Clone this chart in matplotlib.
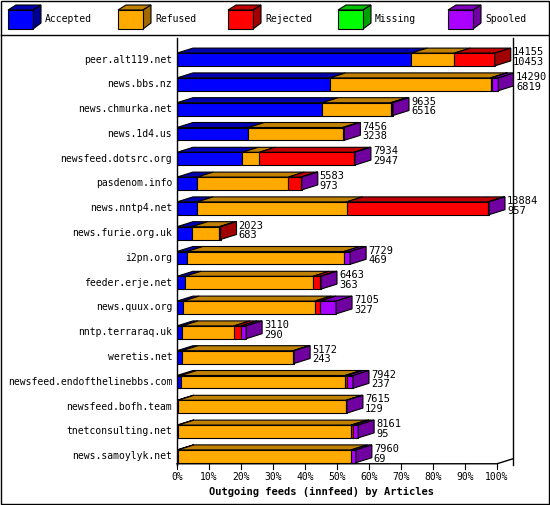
import matplotlib
matplotlib.use("Agg")
import matplotlib.pyplot as plt
from matplotlib.patches import Polygon, Rectangle
import numpy as np

feeds = ["peer.alt119.net", "news.bbs.nz", "news.chmurka.net", "news.1d4.us",
         "newsfeed.dotsrc.org", "pasdenom.info", "news.nntp4.net", "news.furie.org.uk",
         "i2pn.org", "feeder.erje.net", "news.quux.org", "nntp.terraraq.uk",
         "weretis.net", "newsfeed.endofthelinebbs.com", "newsfeed.bofh.team",
         "tnetconsulting.net", "news.samoylyk.net"]
offered = [14155, 14290, 9635, 7456, 7934, 5583, 13884, 2023, 7729, 6463, 7105, 3110,
           5172, 7942, 7615, 8161, 7960]
accepted_n = [10453, 6819, 6516, 3238, 2947, 973, 957, 683, 469, 363, 327, 290,
              243, 237, 129, 95, 69]
# percentages
accepted = [73.2, 47.7, 45.4, 22.3, 20.4, 6.3, 6.3, 4.6, 3.1, 2.5, 1.9, 1.6, 1.6, 1.2, 0.3, 0.3, 0.3]
refused = [13.5, 50.3, 21.4, 29.5, 5.3, 28.5, 46.7, 8.6, 49.1, 40.0, 41.2, 16.2, 34.7, 51.3, 52.5, 54.1, 54.1]
rejected = [12.6, 0.3, 0.4, 0.0, 29.6, 3.9, 44.2, 0.4, 0.0, 2.2, 1.6, 2.2, 0.0, 0.6, 0.0, 0.6, 0.0]
missing = [0.0] * 17
spooled = [0.0, 2.1, 0.3, 0.5, 0.3, 0.3, 0.3, 0.0, 1.9, 0.3, 5.0, 1.6, 0.3, 1.9, 0.3, 1.6, 1.5]
ticks = ["0%", "10%", "20%", "30%", "40%", "50%", "60%", "70%", "80%", "90%", "100%"]

names = ["Accepted", "Refused", "Rejected", "Missing", "Spooled"]
front = ["#0000FF", "#FFAA00", "#FF0000", "#00FF00", "#AA00FF"]
top = ["#0000B0", "#C08000", "#C00000", "#00C000", "#8000C0"]
side = ["#000090", "#A06800", "#A00000", "#00A000", "#7000A0"]
series = [accepted, refused, rejected, missing, spooled]

W, H = 550, 505
fig = plt.figure(figsize=(W / 100, H / 100), dpi=100)
fig.patch.set_facecolor("white")
mono = "DejaVu Sans Mono"

# axes: x 0..105 mapped to px 177..513, y rows
x0, x1 = 177, 513
ytop, ybot = 38, 465
ax = fig.add_axes([x0 / W, 1 - ybot / H, (x1 - x0) / W, (ybot - ytop) / H])
ax.set_xlim(0, 105)
sp = 24.8
ax.set_ylim((ybot - 59.5) / sp, -(59.5 - ytop) / sp)
ax.axis("off")

hh = 6.4 / sp
dx = 5.0
dy = 5.0 / sp

# back wall line
ax.plot([105, 105], ax.get_ylim(), color="black", lw=1, clip_on=False)
ax.plot([0, 0], ax.get_ylim(), color="black", lw=1, clip_on=False)

for i in range(len(feeds)):
    left = 0.0
    last = None
    for k, s in enumerate(series):
        w = s[i]
        if w <= 0:
            continue
        ax.add_patch(Polygon([(left, i - hh), (left + dx, i - hh - dy), (left + w + dx, i - hh - dy),
                              (left + w, i - hh)], closed=True, fc=top[k], ec="black", lw=0.8))
        ax.add_patch(Rectangle((left, i - hh), w, 2 * hh, fc=front[k], ec="black", lw=0.8))
        left += w
        last = k
    ax.add_patch(Polygon([(left, i - hh), (left + dx, i - hh - dy), (left + dx, i + hh - dy),
                          (left, i + hh)], closed=True, fc=side[last], ec="black", lw=0.8))
    ax.text(left + dx + 0.6, i - 0.1, f"{offered[i]}\n{accepted_n[i]}", fontsize=7.5,
            family=mono, va="center", ha="left", linespacing=0.95)
    ax.text(-1.5, i, feeds[i], fontsize=7, family=mono, va="center", ha="right")

# bottom floor
yb = ax.get_ylim()[0]
ax.plot([0, 100, 105], [yb - 0.05, yb - 0.05, yb - 0.05 - dy], color="black", lw=1, clip_on=False)
for j, t in enumerate(ticks):
    xv = j * 10
    ax.plot([xv, xv], [yb - 0.05, yb + 0.15], color="black", lw=0.8, clip_on=False)
    ax.text(xv, yb + 0.5, t, fontsize=7, family=mono, ha="center", va="center")
ax.text(45, yb + 1.1, "Outgoing feeds (innfeed) by Articles", fontsize=7.5, family=mono,
        fontweight="bold", ha="center", va="center")

# legend strip
lax = fig.add_axes([0, 0, 1, 1])
lax.set_xlim(0, W)
lax.set_ylim(H, 0)
lax.axis("off")
lax.add_patch(Rectangle((1, 1), W - 2, H - 2, fill=False, ec="black", lw=1))
lax.plot([1, W - 1], [35, 35], color="black", lw=1)
for k, n in enumerate(names):
    bx = 8 + 110 * k
    lax.add_patch(Polygon([(bx, 10), (bx + 8, 5), (bx + 33, 5), (bx + 25, 10)], fc=top[k], ec="black", lw=0.8))
    lax.add_patch(Polygon([(bx + 25, 10), (bx + 33, 5), (bx + 33, 23), (bx + 25, 29)], fc=side[k], ec="black", lw=0.8))
    lax.add_patch(Rectangle((bx, 10), 25, 19, fc=front[k], ec="black", lw=0.8))
    lax.text(bx + 37, 19, n, fontsize=7, family=mono, va="center", ha="left")

fig.savefig("out.png", dpi=100)
